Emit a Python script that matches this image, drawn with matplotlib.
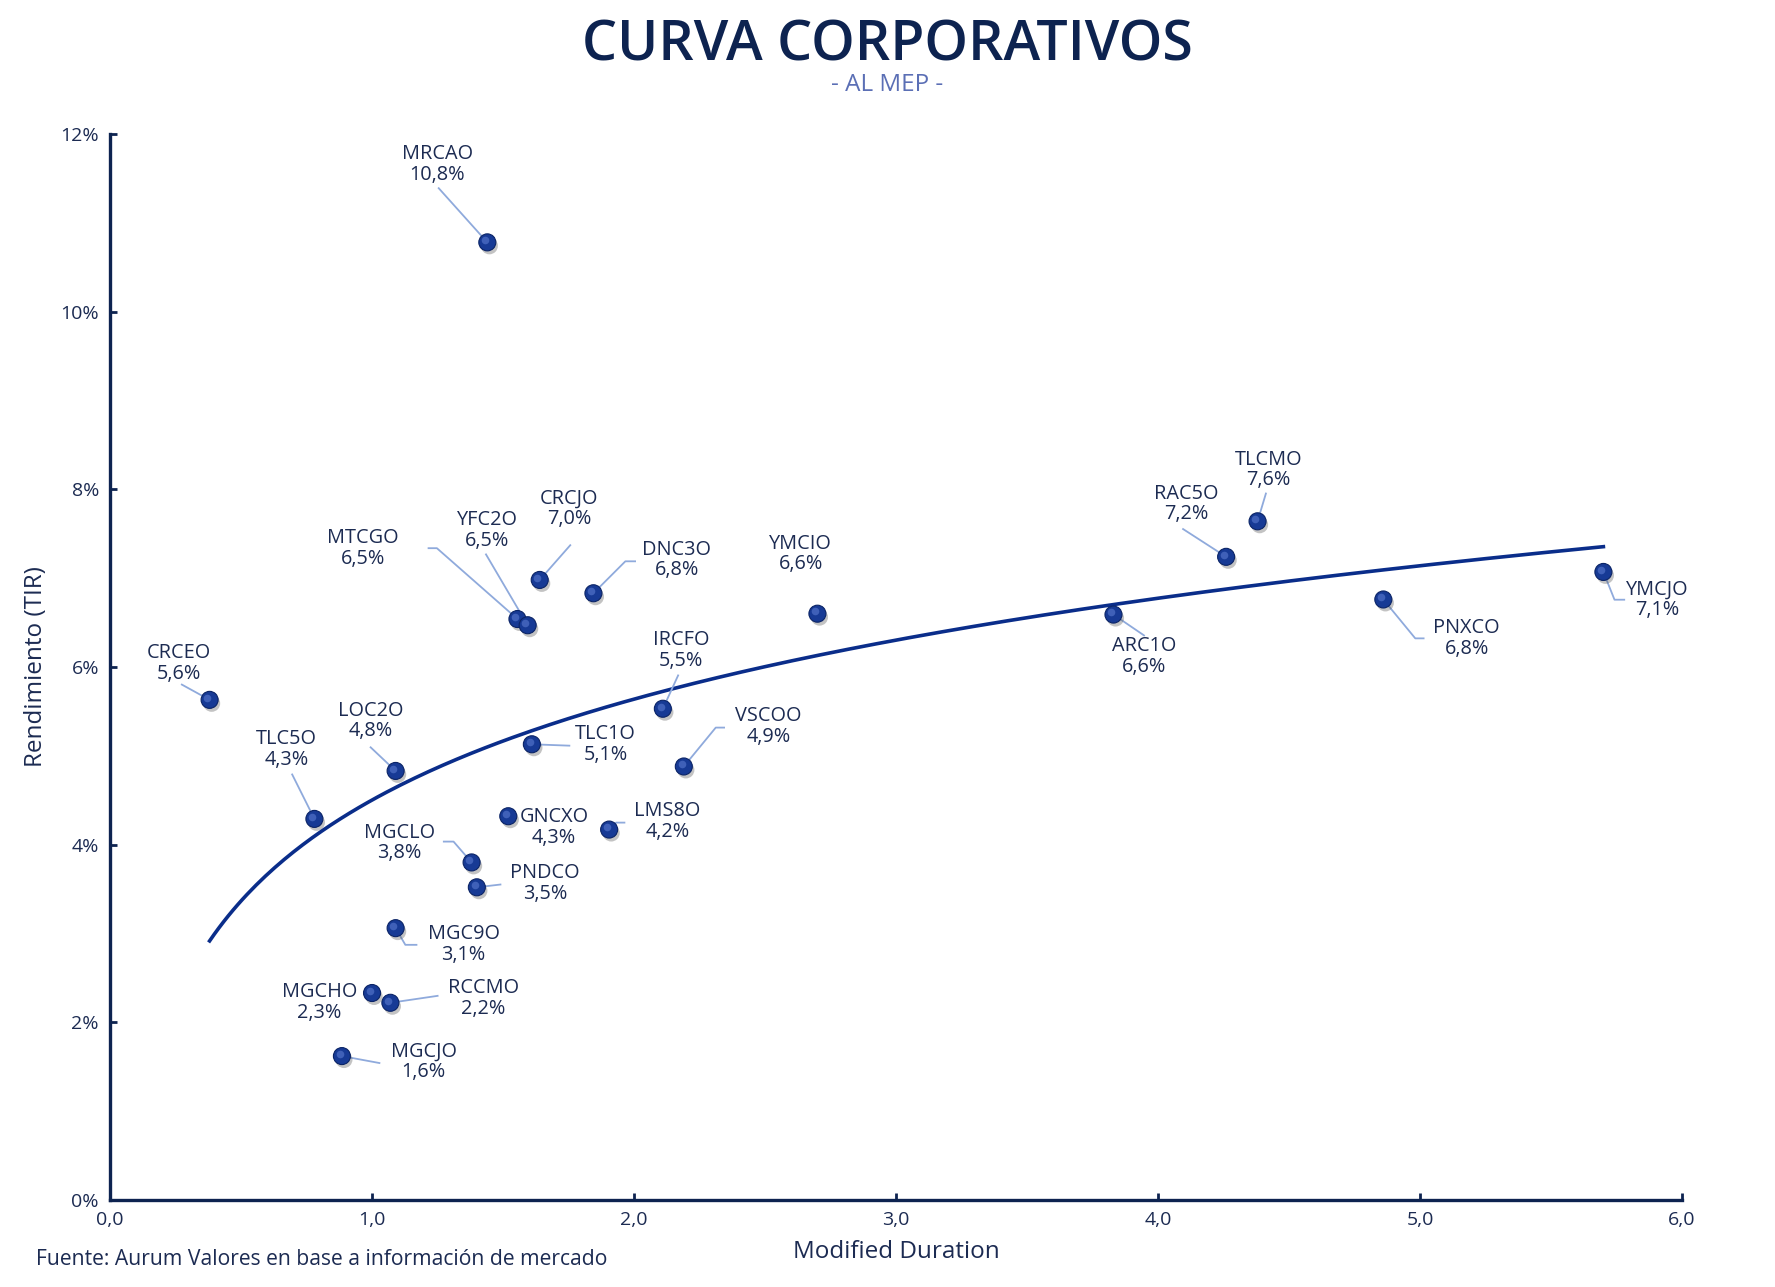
import numpy as np
import matplotlib
matplotlib.use("Agg")
import matplotlib.pyplot as plt
import matplotlib.patheffects as pe
import matplotlib.transforms as mtransforms

# bonos corporativos: duration modificada y TIR (%)
names = ["MRCAO", "MTCGO", "YFC2O", "CRCJO", "DNC3O", "YMCIO", "IRCFO", "VSCOO",
         "TLC1O", "CRCEO", "LOC2O", "TLC5O", "GNCXO", "LMS8O", "MGCLO", "PNDCO",
         "MGC9O", "MGCHO", "RCCMO", "MGCJO", "ARC1O", "RAC5O", "TLCMO", "PNXCO",
         "YMCJO"]
duration = [1.44, 1.555, 1.594, 1.64, 1.845, 2.70, 2.11, 2.19,
            1.61, 0.38, 1.09, 0.78, 1.52, 1.905, 1.38, 1.40,
            1.09, 1.00, 1.07, 0.885, 3.83, 4.26, 4.38, 4.86,
            5.70]
tir = [10.78, 6.54, 6.47, 6.98, 6.83, 6.60, 5.53, 4.88,
       5.13, 5.63, 4.83, 4.29, 4.32, 4.17, 3.80, 3.52,
       3.06, 2.33, 2.22, 1.62, 6.59, 7.24, 7.64, 6.76,
       7.07]

x_ticks = [0, 1, 2, 3, 4, 5, 6]
y_ticks = [0, 2, 4, 6, 8, 10, 12]

# posicion de etiquetas (en puntos respecto del bono) y quiebres de la linea guia
label_pos = {
    "MRCAO": ((-36, 56), [(-35, 39)]),
    "MTCGO": ((-111, 51), [(-64, 51), (-58, 51)]),
    "YFC2O": ((-29, 68), [(-30, 51)]),
    "CRCJO": ((21, 51), [(22, 25)]),
    "DNC3O": ((60, 24), [(30, 23), (23, 23)]),
    "YMCIO": ((-12, 43), []),
    "IRCFO": ((13, 42), [(11, 24)]),
    "VSCOO": ((61, 29), [(29, 28), (23, 28)]),
    "TLC1O": ((53, 0), [(27, -1)]),
    "CRCEO": ((-22, 26), [(-20, 11)]),
    "LOC2O": ((-18, 36), [(-18, 17)]),
    "TLC5O": ((-20, 50), [(-16, 32)]),
    "GNCXO": ((33, -8), []),
    "LMS8O": ((42, 6), [(11, 5), (5, 5)]),
    "MGCLO": ((-52, 14), [(-20, 15), (-13, 15)]),
    "PNDCO": ((49, 3), [(17, 2)]),
    "MGC9O": ((49, -12), [(15, -12), (7, -12)]),
    "MGCHO": ((-38, -7), []),
    "RCCMO": ((67, 3), [(34, 5)]),
    "MGCJO": ((59, -4), [(27, -5)]),
    "ARC1O": ((22, -30), [(22, -15)]),
    "RAC5O": ((-29, 38), [(-31, 20)]),
    "TLCMO": ((8, 37), [(6, 20)]),
    "PNXCO": ((60, -28), [(29, -28), (23, -28)]),
    "YMCJO": ((39, -20), [(15, -20), (8, -20)]),
}

navy = "#0d2350"
text_c = "#1c2b52"
line_c = "#0a2d8a"
guide_c = "#8faadc"
plt.rcParams["font.family"] = ["Open Sans", "DejaVu Sans"]

fig = plt.figure(figsize=(17.75, 12.87), dpi=100)
ax = fig.add_axes([0.062, 0.0676, 0.8856, 0.8283])

x = np.array(duration)
y = np.array(tir)

# tendencia logaritmica
b, a = np.polyfit(np.log(x), y, 1)
xs = np.linspace(x.min(), x.max(), 300)
ax.plot(xs, a + b * np.log(xs), color=line_c, lw=2.6, zorder=2)

# lineas guia y etiquetas
for name, xi, yi in zip(names, x, y):
    (tx, ty), guide = label_pos[name]
    trans = (mtransforms.Affine2D().scale(fig.dpi / 72.0)
             + mtransforms.ScaledTranslation(xi, yi, ax.transData))
    if guide:
        pts = guide + [(0, 0)]
        ax.plot([p[0] for p in pts], [p[1] for p in pts], color=guide_c,
                lw=1.3, transform=trans, clip_on=False, zorder=3)
    val = f"{yi:.1f}".replace(".", ",")
    ax.annotate(f"{name}\n{val}%", xy=(xi, yi), xytext=(tx, ty),
                textcoords="offset points", ha="center", va="center",
                fontsize=14.3, color=text_c, linespacing=1.05, zorder=5)

# puntos con sombra y brillo
ax.scatter(x, y, s=150, color="#173a95", edgecolor="#0b2466", linewidth=0.8,
           zorder=4, path_effects=[pe.SimplePatchShadow(offset=(1.5, -2.5),
                                                        shadow_rgbFace="#555555",
                                                        alpha=0.35),
                                   pe.Normal()])
hl = mtransforms.offset_copy(ax.transData, fig=fig, x=-1.6, y=1.6, units="points")
ax.scatter(x, y, s=30, color="#5a7bd0", alpha=0.6, linewidth=0,
           transform=hl, zorder=4)

ax.set_xlim(0, 6)
ax.set_ylim(0, 12)
ax.set_xticks(x_ticks)
ax.set_xticklabels([f"{t},0" for t in x_ticks])
ax.set_yticks(y_ticks)
ax.set_yticklabels([f"{t}%" for t in y_ticks])

for side in ["top", "right"]:
    ax.spines[side].set_visible(False)
for side in ["left", "bottom"]:
    ax.spines[side].set_color(navy)
    ax.spines[side].set_linewidth(2.4)
ax.tick_params(direction="in", length=5, width=2, color=navy,
               labelcolor=text_c, labelsize=14, pad=8)

ax.set_xlabel("Modified Duration", fontsize=17.5, color=text_c, labelpad=8)
ax.set_ylabel("Rendimiento (TIR)", fontsize=17.5, color=text_c, labelpad=9)

fig.text(0.5, 0.964, "CURVA CORPORATIVOS", ha="center", va="center",
         fontsize=40, fontweight="semibold", color=navy)
fig.text(0.5, 0.934, "- AL MEP -", ha="center", va="center",
         fontsize=17.5, color="#5b6fb5")
fig.text(0.02, 0.021, "Fuente: Aurum Valores en base a información de mercado",
         ha="left", va="center", fontsize=15.2, color=text_c)

fig.savefig("out.png", dpi=100)
